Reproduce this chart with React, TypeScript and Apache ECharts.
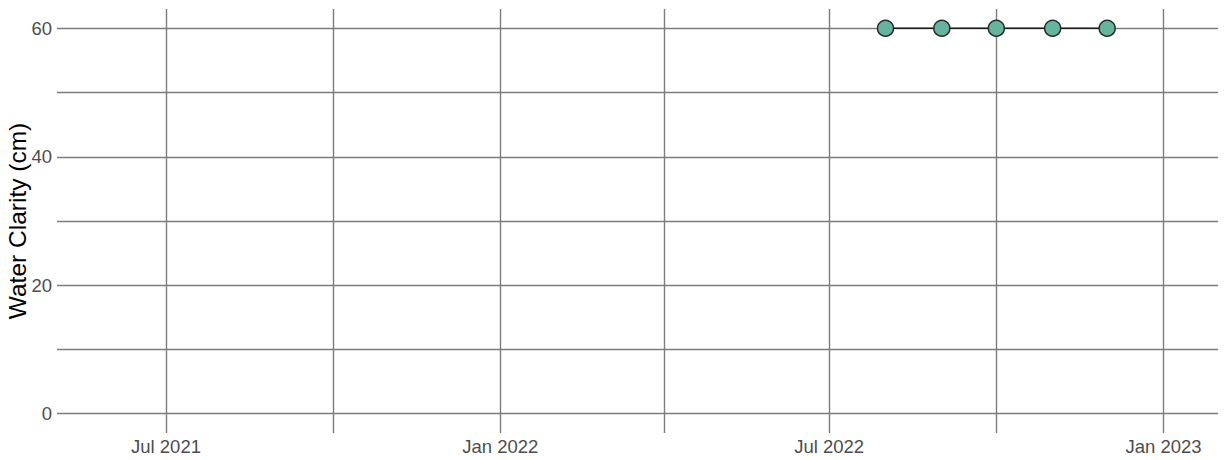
import React, { useEffect, useRef } from "react";
import * as echarts from "echarts";

const sampleDates = ["2022-08-01", "2022-09-01", "2022-10-01", "2022-11-01", "2022-12-01"];
const clarityValues = [60, 60, 60, 60, 60];
const majorDateTicks = ["2021-07-01", "2022-01-01", "2022-07-01", "2023-01-01"];
const minorDateTicks = ["2021-10-01", "2022-04-01", "2022-10-01"];
const yLabelTicks = [0, 20, 40, 60];
const yGridValues = [0, 10, 20, 30, 40, 50, 60];
const xRange = ["2021-05-02", "2023-01-31"];
const yRange = [-3, 63];
const monthNames = ["Jan", "Feb", "Mar", "Apr", "May", "Jun", "Jul", "Aug", "Sep", "Oct", "Nov", "Dec"];

const toTs = (s: string) => {
  const [y, m, d] = s.split("-").map(Number);
  return new Date(y, m - 1, d).getTime();
};

export default function App() {
  const ref = useRef<HTMLDivElement>(null);
  useEffect(() => {
    if (!ref.current) return;
    const chart = echarts.init(ref.current, null, { renderer: "svg" });
    const gridColor = "#7d7d7d";
    const font = "Liberation Sans, Arial, Helvetica, sans-serif";
    const gridLines: any[] = [
      ...majorDateTicks.map((d) => ({ xAxis: toTs(d) })),
      ...minorDateTicks.map((d) => ({ xAxis: toTs(d) })),
      ...yGridValues.map((v) => ({ yAxis: v })),
    ];
    chart.setOption({
      animation: false,
      backgroundColor: "#ffffff",
      grid: { left: 57, right: 7, top: 9, bottom: 27, containLabel: false, outerBoundsMode: "none" },
      xAxis: {
        type: "value",
        min: toTs(xRange[0]),
        max: toTs(xRange[1]),
        axisLine: { show: false },
        axisTick: { show: false },
        splitLine: { show: false },
        axisLabel: {
          customValues: majorDateTicks.map(toTs),
          color: "#4d4d4d",
          fontSize: 18.5,
          fontFamily: font,
          margin: 3.5,
          formatter: (v: number) => {
            const d = new Date(v);
            return monthNames[d.getMonth()] + " " + d.getFullYear();
          },
        },
      },
      yAxis: {
        type: "value",
        min: yRange[0],
        max: yRange[1],
        axisLine: { show: false },
        axisTick: { show: false },
        splitLine: { show: false },
        name: "Water Clarity (cm)",
        nameLocation: "middle",
        nameGap: 27,
        nameRotate: 90,
        nameMoveOverlap: false,
        nameTextStyle: { color: "#000000", fontSize: 24.5, fontFamily: font },
        axisLabel: {
          customValues: yLabelTicks,
          color: "#4d4d4d",
          fontSize: 18.5,
          fontFamily: font,
          margin: 5,
        },
      },
      series: [
        {
          type: "line",
          data: sampleDates.map((d, i) => [toTs(d), clarityValues[i]]),
          symbol: "circle",
          symbolSize: 16,
          z: 5,
          lineStyle: { color: "#1a1a1a", width: 1.6 },
          itemStyle: { color: "#66b39f", borderColor: "#2b2b2b", borderWidth: 1.5 },
          markLine: {
            silent: true,
            symbol: "none",
            label: { show: false },
            z: 1,
            lineStyle: { color: gridColor, width: 1.4, type: "solid" },
            data: gridLines,
          },
        },
      ],
    });
    return () => chart.dispose();
  }, []);
  return (
    <div
      ref={ref}
      style={{ position: "absolute", left: 0, top: 0, width: 1225, height: 460 }}
    />
  );
}
